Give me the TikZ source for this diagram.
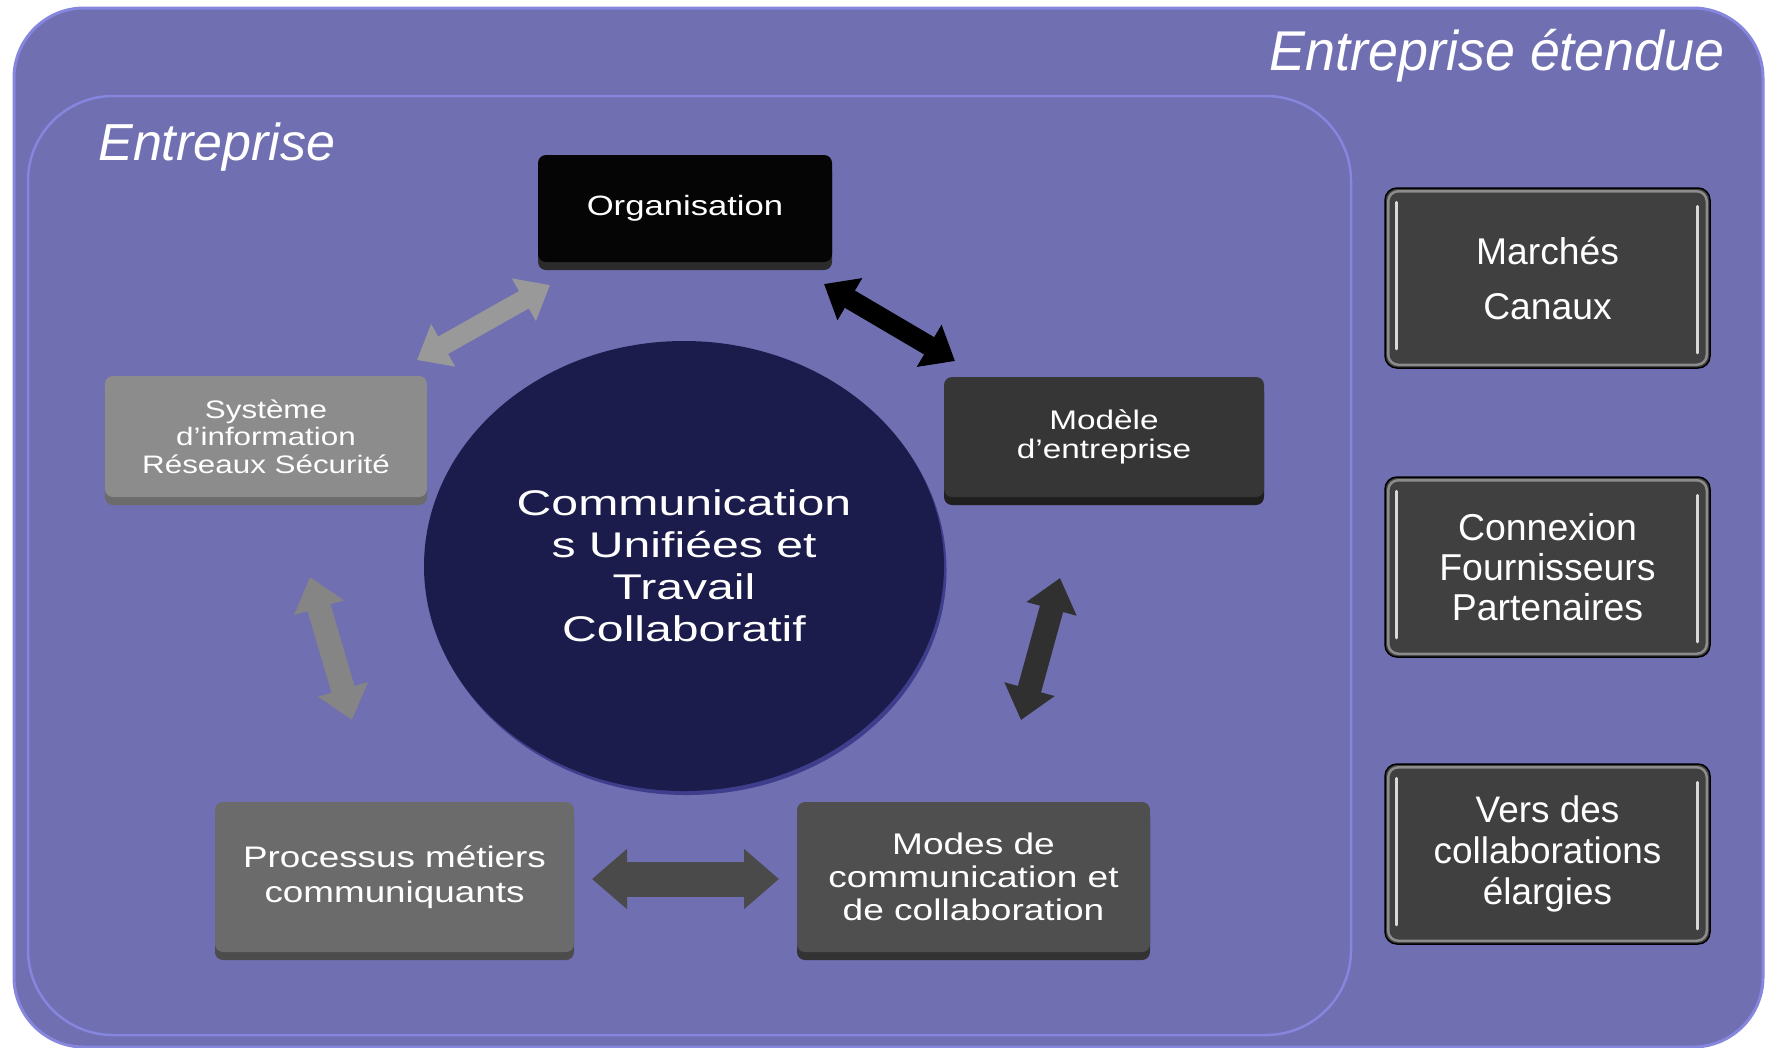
\documentclass[tikz,border=0pt]{standalone}
\usepackage{fontspec}
\setmainfont{Liberation Sans}
\newfontfamily\wideA[FakeStretch=1.24]{Liberation Sans}
\newfontfamily\wideB[FakeStretch=1.35]{Liberation Sans}
\newfontfamily\labfont[FakeStretch=0.96]{Liberation Sans}
\usetikzlibrary{arrows.meta,shadows,shapes.geometric}
\definecolor{bgpurple}{RGB}{111,111,178}
\definecolor{rimpurple}{RGB}{134,134,222}
\definecolor{navy}{RGB}{28,28,76}
\definecolor{navyrim}{RGB}{62,62,140}
\begin{document}
\begin{tikzpicture}[x=0.2mm,y=-0.2mm,
  facebox/.style={rounded corners=1.6mm, align=center, text=white, inner sep=0pt},
  bev/.style={drop shadow={shadow xshift=0mm, shadow yshift=-1.6mm, fill=#1, opacity=1}},
  sidebox/.style={rounded corners=2.4mm, align=center, text=white, inner sep=0pt,
    fill=black!75, draw=black, line width=0.3mm, minimum width=65mm, minimum height=36mm},
  bigarrow/.style n args={3}{line width=#1, <->, >={Triangle[width=#2,length=#3]}},
  lab/.style={text=white, inner sep=0pt}]
\useasboundingbox (0,0) rectangle (1765,1047);
\fill[white] (0,0) rectangle (1765,1047);
% outer region
\draw[fill=bgpurple, draw=rimpurple, line width=0.6mm, rounded corners=14mm] (14,8) rectangle (1763,1047);
% inner region
\draw[fill=bgpurple, draw=rimpurple, line width=0.5mm, rounded corners=17mm] (28,96) rectangle (1351,1035);

\node[lab, anchor=base west, font=\itshape\fontsize{29.6pt}{32pt}\selectfont] (entlab) at (98,160) {Entreprise};
\node[lab, anchor=base east, font=\labfont\itshape\fontsize{31.9pt}{34pt}\selectfont] (extlab) at (1725,70) {Entreprise étendue};

% central circle
\node[ellipse, fill=navy, minimum width=104mm, minimum height=90mm, inner sep=0pt,
  drop shadow={shadow xshift=0.5mm, shadow yshift=-0.8mm, fill=navyrim, opacity=1},
  text=white, align=center, font=\wideB\fontsize{20.3pt}{23.9pt}\selectfont] (ucc) at (684,566)
  {Communication\\s Unifiées et\\Travail\\Collaboratif};

% boxes
\node[facebox, bev={black!83}, fill=black!98, minimum width=58.8mm, minimum height=21.4mm,
  font=\wideA\fontsize{15.9pt}{18pt}\selectfont] (org) at (685,208.5) {Organisation};
\node[facebox, bev={black!58}, fill=black!45, minimum width=64.4mm, minimum height=24.2mm,
  font=\wideA\fontsize{14.4pt}{15.6pt}\selectfont] (sys) at (266,436.5)
  {Système\\d’information\\Réseaux Sécurité};
\node[facebox, bev={black!88}, fill=black!79, minimum width=64mm, minimum height=24mm,
  font=\wideA\fontsize{15.3pt}{16.5pt}\selectfont] (mod) at (1104,437) {Modèle\\d’entreprise};
\node[facebox, bev={black!70}, fill=black!58, minimum width=71.8mm, minimum height=30mm,
  font=\wideA\fontsize{16.9pt}{19.9pt}\selectfont] (proc) at (394.5,877)
  {Processus métiers\\communiquants};
\node[facebox, bev={black!80}, fill=black!69, minimum width=70.6mm, minimum height=30mm,
  font=\wideA\fontsize{17pt}{18.8pt}\selectfont] (modes) at (973.5,877)
  {Modes de\\communication et\\de collaboration};

% right-hand boxes
\node[sidebox, font=\fontsize{21.2pt}{31.3pt}\selectfont] (mk) at (1547.5,278) {Marchés\\Canaux};
\node[sidebox, font=\fontsize{21.3pt}{22.8pt}\selectfont] (cx) at (1547.5,567) {Connexion\\Fournisseurs\\Partenaires};
\node[sidebox, font=\fontsize{21pt}{23.3pt}\selectfont] (vd) at (1547.5,854) {Vers des\\collaborations\\élargies};
\foreach \b in {mk,cx,vd}{
  \draw[black!45, line width=0.5mm, rounded corners=2mm]
    ([shift={(4,4)}]\b.north west) rectangle ([shift={(-4,-4)}]\b.south east);
  \draw[white!85!black, line width=0.6mm, line cap=round]
    ([shift={(12,15)}]\b.north west) -- ([shift={(12,-20)}]\b.south west);
  \draw[white!85!black, line width=0.6mm, line cap=round]
    ([shift={(-13,19)}]\b.north east) -- ([shift={(-13,-16)}]\b.south east);
}

% arrow end points
\coordinate (orgSW) at (550,285);
\coordinate (sysNE) at (417,360);
\coordinate (orgSE) at (824,284);
\coordinate (modNW) at (955,361);
\coordinate (sysS) at (310,577);
\coordinate (procN) at (352,720);
\coordinate (modS) at (1060,578);
\coordinate (modesN) at (1021,720);
\coordinate (procE) at (592,879);
\coordinate (modesW) at (779,879);

\draw[bigarrow={4mm}{9.4mm}{6mm}, draw=black!40, fill=black!40] (orgSW) -- (sysNE);
\draw[bigarrow={4mm}{9.4mm}{6mm}, draw=black, fill=black] (orgSE) -- (modNW);
\draw[bigarrow={4.8mm}{10mm}{6.4mm}, draw=black!48, fill=black!48] (sysS) -- (procN);
\draw[bigarrow={4.8mm}{10mm}{6.4mm}, draw=black!81, fill=black!81] (modS) -- (modesN);
\draw[bigarrow={7mm}{11.6mm}{7mm}, draw=black!71, fill=black!71] (procE) -- (modesW);
\end{tikzpicture}
\end{document}
